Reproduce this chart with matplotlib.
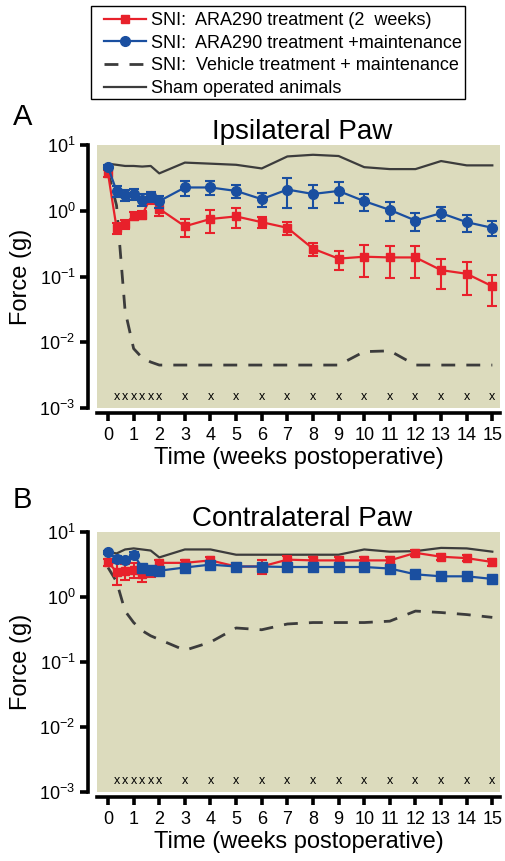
import matplotlib
matplotlib.use('Agg')
import matplotlib.pyplot as plt
from matplotlib.lines import Line2D
from matplotlib.patches import Rectangle
from matplotlib.ticker import NullLocator

plt.rcParams['font.family'] = ['Liberation Sans', 'DejaVu Sans']
plt.rcParams['mathtext.fontset'] = 'custom'
plt.rcParams['mathtext.rm'] = 'Liberation Sans'

# time points (weeks postoperative)
weeks = [0, 1/3, 2/3, 1, 4/3, 5/3, 2, 3, 4, 5, 6, 7, 8, 9, 10, 11, 12, 13, 14, 15]
week_ticks = list(range(16))

# panel A - ipsilateral paw, force (g)
ipsi_sham = [5.2, 5.0, 4.8, 4.8, 4.7, 4.8, 3.7, 5.4, 5.2, 5.0, 4.4, 6.7, 7.1, 6.8, 4.6, 4.3, 4.3, 5.7, 4.9, 4.9]
ipsi_vehicle = [4.0, 1.2, 0.03, 0.008, 0.0058, 0.005, 0.0045, 0.0045, 0.0045, 0.0045, 0.0045,
                0.0045, 0.0045, 0.0045, 0.0072, 0.0074, 0.0045, 0.0045, 0.0045, 0.0045]
ipsi_2wk = [3.7, 0.55, 0.63, 0.84, 0.86, 1.6, 1.07, 0.58, 0.75, 0.82, 0.67, 0.55, 0.265, 0.187,
            0.2, 0.195, 0.195, 0.125, 0.11, 0.071]
ipsi_2wk_err = [0.4, 0.1, 0.1, 0.12, 0.12, 0.35, 0.25, 0.18, 0.29, 0.27, 0.12, 0.12, 0.06, 0.06,
                0.1, 0.1, 0.1, 0.06, 0.058, 0.035]
ipsi_maint = [4.6, 2.0, 1.75, 1.8, 1.47, 1.65, 1.4, 2.26, 2.26, 2.0, 1.5, 2.1, 1.8, 2.0, 1.4,
              1.03, 0.71, 0.92, 0.67, 0.55]
ipsi_maint_err = [0.3, 0.4, 0.35, 0.35, 0.3, 0.3, 0.3, 0.6, 0.55, 0.45, 0.35, 1.0, 0.7, 0.7, 0.4,
                  0.32, 0.21, 0.22, 0.2, 0.14]

# panel B - contralateral paw, force (g)
contra_sham = [4.9, 4.6, 5.3, 5.5, 5.3, 5.1, 4.0, 5.3, 5.3, 4.4, 4.4, 4.4, 4.4, 4.4, 5.3, 4.9,
               5.0, 5.6, 5.5, 4.9]
contra_vehicle = [2.8, 1.7, 0.6, 0.4, 0.3, 0.25, 0.22, 0.15, 0.2, 0.33, 0.31, 0.38, 0.4, 0.4,
                  0.4, 0.42, 0.6, 0.57, 0.53, 0.48]
contra_2wk = [3.4, 2.4, 2.5, 2.6, 2.2, 2.4, 3.3, 3.3, 3.6, 2.9, 2.9, 3.7, 3.6, 3.6, 3.6, 3.6,
              4.7, 4.1, 3.9, 3.4]
contra_2wk_err = [0.4, 0.9, 0.7, 0.7, 0.5, 0.4, 0.4, 0.4, 0.4, 0.4, 0.7, 0.5, 0.4, 0.4, 0.4,
                  0.4, 0.5, 0.4, 0.4, 0.4]
contra_maint = [4.8, 3.8, 3.7, 4.4, 2.8, 2.6, 2.5, 2.8, 3.1, 2.9, 2.9, 2.85, 2.85, 2.85, 2.85,
                2.7, 2.2, 2.05, 2.05, 1.87]
contra_maint_err = [0.3, 0.4, 0.4, 0.4, 0.3, 0.3, 0.3, 0.3, 0.3, 0.3, 0.3, 0.3, 0.3, 0.3, 0.3,
                    0.3, 0.25, 0.2, 0.2, 0.2]

labels = ['SNI:  ARA290 treatment (2  weeks)',
          'SNI:  ARA290 treatment +maintenance',
          'SNI:  Vehicle treatment + maintenance',
          'Sham operated animals']

red = '#e8212b'
blue = '#1a4fa0'
gray = '#3c3c3c'
bg = '#dcdbbd'

fig = plt.figure(figsize=(5.05, 8.61), dpi=100)


def draw_panel(rect, title, sham, vehicle, red_y, red_err, blue_y, blue_err, letter, letter_y, blue_square):
    ax = fig.add_axes(rect)
    ax.set_facecolor(bg)
    ax.set_yscale('log')
    ax.plot(weeks, sham, color=gray, lw=1.6, zorder=2)
    ax.plot(weeks, vehicle, color=gray, lw=2.0, dashes=(5, 4), zorder=2)
    ax.errorbar(weeks, red_y, yerr=red_err, color=red, lw=1.6, marker='s', ms=6,
                capsize=3.5, capthick=1.5, elinewidth=1.5, zorder=3)
    if blue_square:
        ax.errorbar(weeks, blue_y, yerr=blue_err, color=blue, lw=1.6,
                    capsize=3.5, capthick=1.5, elinewidth=1.5, zorder=4)
        ax.plot(weeks[:4], blue_y[:4], 'o', color=blue, ms=7, zorder=5)
        ax.plot(weeks[4:], blue_y[4:], 's', color=blue, ms=6.5, zorder=5)
    else:
        ax.errorbar(weeks, blue_y, yerr=blue_err, color=blue, lw=1.6, marker='o', ms=7,
                    capsize=3.5, capthick=1.5, elinewidth=1.5, zorder=4)
    # significance marks
    for w in weeks[1:]:
        ax.text(w, 1.45e-3, 'x', ha='center', va='center', fontsize=9)
    ax.set_xlim(-0.43, 15.3)
    ax.set_ylim(1e-3, 1e1)
    ax.set_xticks(week_ticks)
    ax.set_yticks([1e-3, 1e-2, 1e-1, 1e0, 1e1])
    ax.yaxis.set_minor_locator(NullLocator())
    ax.spines['top'].set_visible(False)
    ax.spines['right'].set_visible(False)
    ax.spines['left'].set_position(('outward', 6.5))
    ax.spines['bottom'].set_position(('outward', 3.5))
    ax.spines['left'].set_linewidth(2.6)
    ax.spines['bottom'].set_linewidth(2.6)
    ax.tick_params(axis='both', which='major', length=6, width=2.6, labelsize=13, pad=3)
    ax.tick_params(axis='x', pad=4)
    ax.set_title(title, fontsize=20, pad=1, x=0.51)
    ax.set_xlabel('Time (weeks postoperative)', fontsize=17, labelpad=2)
    ax.set_ylabel('Force (g)', fontsize=17, labelpad=5)
    fig.text(13 / 505, letter_y, letter, fontsize=21, va='top', ha='left')
    return ax


axA = draw_panel([97 / 505, 1 - 408 / 861, 403 / 505, 263 / 861], 'Ipsilateral Paw',
                 ipsi_sham, ipsi_vehicle, ipsi_2wk, ipsi_2wk_err, ipsi_maint, ipsi_maint_err,
                 'A', 1 - 103 / 861, False)
axB = draw_panel([97 / 505, 1 - 792 / 861, 403 / 505, 260.5 / 861], 'Contralateral Paw',
                 contra_sham, contra_vehicle, contra_2wk, contra_2wk_err, contra_maint, contra_maint_err,
                 'B', 1 - 486 / 861, True)

handles = [Line2D([], [], color=red, lw=1.6, marker='s', ms=6),
           Line2D([], [], color=blue, lw=1.6, marker='o', ms=7),
           Line2D([], [], color=gray, lw=2.0, dashes=(5, 4)),
           Line2D([], [], color=gray, lw=1.6)]
leg = fig.legend(handles, labels, loc='upper left', bbox_to_anchor=(99 / 505, 1 - 6.5 / 861),
                 fontsize=13, frameon=False,
                 handlelength=2.3, handletextpad=0.3, labelspacing=0.32,
                 borderpad=0.3, borderaxespad=0)
# legend box
fig.patches.append(Rectangle((91 / 505, 1 - 98.5 / 861), (465 - 91) / 505, (98.5 - 6.5) / 861,
                             transform=fig.transFigure, fill=False, edgecolor='black', lw=1.0))

fig.savefig('out.png', dpi=100)
